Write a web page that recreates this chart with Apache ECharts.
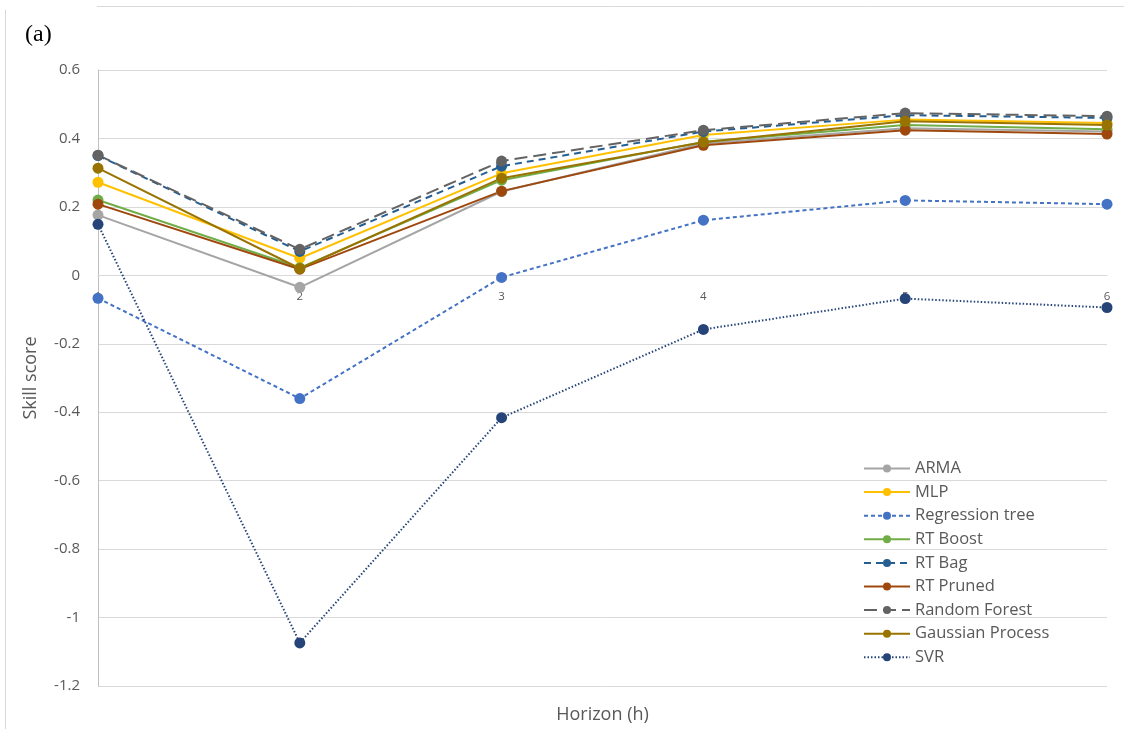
<!DOCTYPE html>
<html>
<head>
<meta charset="utf-8">
<script src="https://cdn.jsdelivr.net/npm/echarts@6/dist/echarts.min.js"></script>
<style>
html,body{margin:0;padding:0;background:#fff;}
#chart{width:1124px;height:729px;}
</style>
</head>
<body>
<div id="chart"></div>
<script>
const horizons = ['1', '2', '3', '4', '5', '6'];
const yTicks = [-1.2, -1, -0.8, -0.6, -0.4, -0.2, 0, 0.2, 0.4, 0.6];

const arma            = [0.176, -0.035, 0.245, 0.385, 0.430, 0.420];
const mlp             = [0.272, 0.050, 0.298, 0.410, 0.455, 0.445];
const regressionTree  = [-0.067, -0.360, -0.006, 0.161, 0.219, 0.208];
const rtBoost         = [0.220, 0.022, 0.278, 0.390, 0.439, 0.427];
const rtBag           = [0.350, 0.070, 0.319, 0.420, 0.468, 0.460];
const rtPruned        = [0.208, 0.018, 0.246, 0.380, 0.424, 0.413];
const randomForest    = [0.351, 0.076, 0.334, 0.424, 0.474, 0.465];
const gaussianProcess = [0.313, 0.020, 0.284, 0.389, 0.450, 0.439];
const svr             = [0.149, -1.074, -0.416, -0.158, -0.068, -0.094];

const seriesDefs = [
  {name: 'ARMA', data: arma, color: '#A5A5A5', type: 'solid'},
  {name: 'MLP', data: mlp, color: '#FFC000', type: 'solid'},
  {name: 'Regression tree', data: regressionTree, color: '#4472C4', type: [4, 3]},
  {name: 'RT Boost', data: rtBoost, color: '#70AD47', type: 'solid'},
  {name: 'RT Bag', data: rtBag, color: '#255E91', type: [7, 5]},
  {name: 'RT Pruned', data: rtPruned, color: '#9E480E', type: 'solid'},
  {name: 'Random Forest', data: randomForest, color: '#636363', type: [13, 6]},
  {name: 'Gaussian Process', data: gaussianProcess, color: '#997300', type: 'solid'},
  {name: 'SVR', data: svr, color: '#264478', type: [1.5, 2]}
];

const Y_MIN = -1.2, Y_MAX = 0.6;
const GRID_TOP = 70, GRID_BOTTOM = 43, CHART_H = 729;
const plotH = CHART_H - GRID_TOP - GRID_BOTTOM;
// shift the category axis up so it sits on the zero line
const zeroOffset = -plotH * (0 - Y_MIN) / (Y_MAX - Y_MIN);

const chart = echarts.init(document.getElementById('chart'), null, {renderer: 'canvas'});
const font = '"Open Sans", "Liberation Sans", sans-serif';

chart.setOption({
  animation: false,
  backgroundColor: '#ffffff',
  graphic: [
    {type: 'line', shape: {x1: 5.5, y1: 10, x2: 5.5, y2: 729}, style: {stroke: '#d9d9d9', lineWidth: 1}},
    {type: 'line', shape: {x1: 97, y1: 6.5, x2: 1124, y2: 6.5}, style: {stroke: '#d9d9d9', lineWidth: 1}},
    {type: 'text', left: 25, top: 23, style: {text: '(a)', font: '24px "Liberation Serif", "DejaVu Serif", serif', fill: '#000'}}
  ],
  grid: {left: 98, right: 17, top: GRID_TOP, bottom: GRID_BOTTOM, containLabel: false, outerBoundsMode: 'none'},
  legend: {
    orient: 'vertical',
    left: 858,
    top: 455,
    itemWidth: 46,
    itemHeight: 10,
    itemGap: 6.6,
    textStyle: {fontFamily: font, fontSize: 16.5, color: '#595959', padding: [0, 0, 0, 0]},
    data: seriesDefs.map(s => s.name)
  },
  xAxis: [{
    type: 'category',
    data: horizons,
    boundaryGap: false,
    position: 'bottom',
    offset: zeroOffset,
    axisLine: {onZero: false, lineStyle: {color: '#d9d9d9', width: 1}},
    axisTick: {show: false},
    axisLabel: {fontFamily: font, fontSize: 11.5, color: '#595959', margin: 15},
    splitLine: {show: false},
    z: 1
  }, {
    type: 'category',
    data: horizons,
    boundaryGap: false,
    position: 'bottom',
    name: 'Horizon (h)',
    nameLocation: 'middle',
    nameGap: 20,
    nameTextStyle: {fontFamily: font, fontSize: 18, color: '#595959'},
    axisLine: {show: false, onZero: false},
    axisTick: {show: false},
    axisLabel: {show: false},
    splitLine: {show: false}
  }],
  yAxis: {
    type: 'value',
    min: Y_MIN,
    max: Y_MAX,
    interval: 0.2,
    name: 'Skill score',
    nameLocation: 'middle',
    nameGap: 58,
    nameRotate: 90,
    nameTextStyle: {fontFamily: font, fontSize: 18, color: '#595959'},
    axisLine: {show: true, lineStyle: {color: '#bfbfbf', width: 1}},
    axisTick: {show: false},
    axisLabel: {
      fontFamily: font, fontSize: 15, color: '#595959', margin: 18,
      formatter: v => {
        const r = Math.round(v * 10) / 10;
        return yTicks.includes(r) ? String(r) : '';
      }
    },
    splitLine: {lineStyle: {color: '#d9d9d9', width: 1}}
  },
  series: seriesDefs.map(s => ({
    name: s.name,
    type: 'line',
    xAxisIndex: 0,
    data: s.data,
    symbol: 'circle',
    symbolSize: 11,
    color: s.color,
    itemStyle: {color: s.color},
    lineStyle: {color: s.color, width: 2, type: s.type}
  }))
});
</script>
</body>
</html>
